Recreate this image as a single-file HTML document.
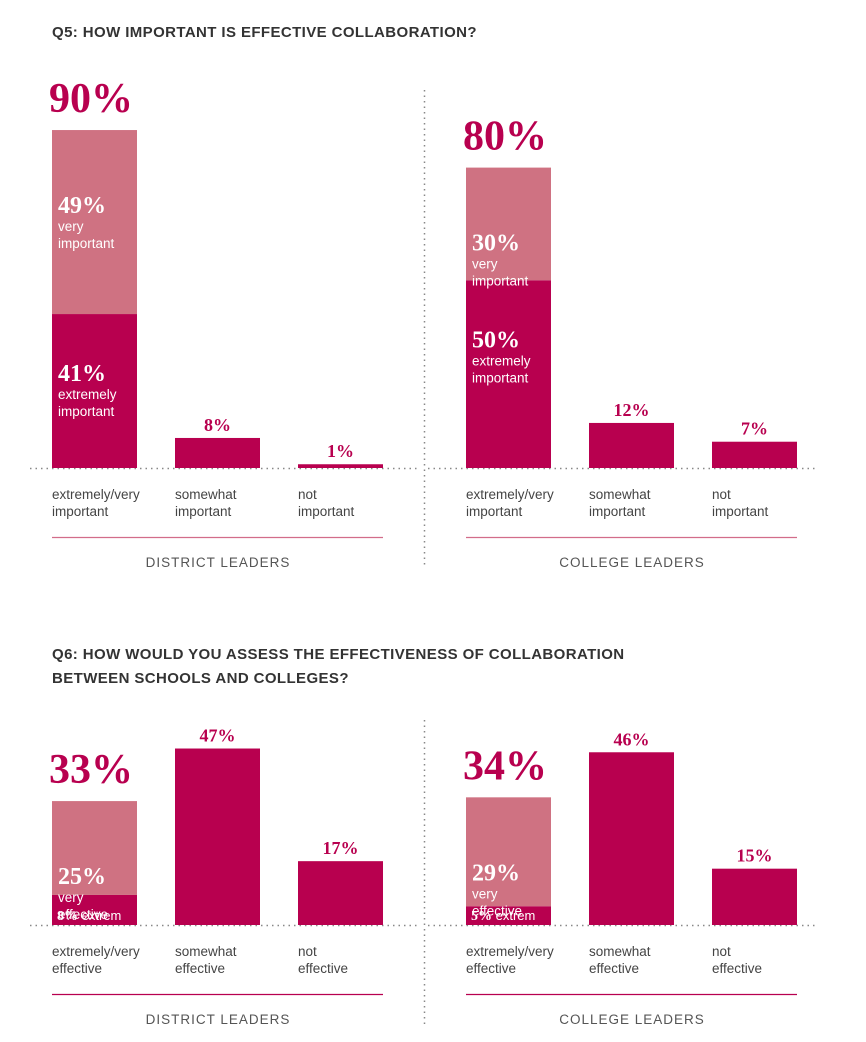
<!DOCTYPE html>
<html><head><meta charset="utf-8">
<style>
html,body{margin:0;padding:0;background:#fff;width:866px;height:1042px;overflow:hidden}
svg{display:block}
.title{font-family:"Liberation Sans",sans-serif;font-weight:bold;font-size:15px;fill:#333;letter-spacing:0.4px}
.cat{font-family:"Liberation Sans",sans-serif;font-size:13.5px;fill:#444}
.grp{font-family:"Liberation Sans",sans-serif;font-size:13.5px;fill:#555;letter-spacing:1px}
.big{font-family:"Liberation Serif",serif;font-weight:bold;font-size:42px;fill:#b8004f}
.val{font-family:"Liberation Serif",serif;font-weight:bold;font-size:18px;fill:#b8004f}
.inv{font-family:"Liberation Serif",serif;font-weight:bold;font-size:24px;fill:#fff}
.insub{font-family:"Liberation Sans",sans-serif;font-size:13.5px;fill:#fff}
</style></head>
<body>
<svg id="chart" width="866" height="1042" viewBox="0 0 866 1042" xmlns="http://www.w3.org/2000/svg">
<text class="title" x="52" y="37">Q5: HOW IMPORTANT IS EFFECTIVE COLLABORATION?</text>
<text class="title" x="52" y="659">Q6: HOW WOULD YOU ASSESS THE EFFECTIVENESS OF COLLABORATION</text>
<text class="title" x="52" y="683">BETWEEN SCHOOLS AND COLLEGES?</text>
</svg>
<script>
// Q5 data
const q5Groups = ["DISTRICT LEADERS", "COLLEGE LEADERS"];
const q5Extremely = [41, 50];
const q5Very = [49, 30];
const q5Somewhat = [8, 12];
const q5Not = [1, 7];
const q5Cats = [["extremely/very","important"],["somewhat","important"],["not","important"]];
// Q6 data
const q6Groups = ["DISTRICT LEADERS", "COLLEGE LEADERS"];
const q6Extremely = [8, 5];
const q6Very = [25, 29];
const q6Somewhat = [47, 46];
const q6Not = [17, 15];
const q6Cats = [["extremely/very","effective"],["somewhat","effective"],["not","effective"]];

const svg = document.getElementById('chart');
const NS = "http://www.w3.org/2000/svg";
const DARK = "#b8004f", LIGHT = "#cf7282";
const PXPER = 3.755;
function yScale(base, v){ return base - v*PXPER; }
function mk(tag, attrs, parent){
  const e = document.createElementNS(NS, tag);
  for (const k in attrs) e.setAttribute(k, attrs[k]);
  (parent||svg).appendChild(e);
  return e;
}
function txt(cls, x, y, s, anchor){
  const t = mk('text', {class:cls, x:x, y:y});
  if (anchor) t.setAttribute('text-anchor', anchor);
  t.textContent = s;
  return t;
}

function panel(q, gi, base, groups, ext, very, som, not, cats, subVery, subExt, lineColor, smallExt){
  const x0 = gi===0 ? 52 : 466;
  const bw = 85, step = 123;
  const g = mk('g', {});
  
  
  // baseline
  const bl = mk('line', {x1: gi===0?30:428, x2: gi===0?420:818, y1: base+0.5, y2: base+0.5, stroke:'#888', 'stroke-width':1.5, 'stroke-dasharray':'1.5,4'}, g);
  
  
  // stacked bar
  const e = ext[gi], v = very[gi];
  const yE = yScale(base, e), yT = yScale(base, e+v);
  const r1 = mk('rect', {x:x0, y:yE, width:bw, height:base-yE, fill:DARK}, g);
  
  
  const r2 = mk('rect', {x:x0, y:yT, width:bw, height:yE-yT, fill:LIGHT}, g);
  
  
  const tot = txt('big', x0-3, yT-18, (e+v)+'%');
  g.appendChild(tot);
  
  
  // very label
  const vl = txt('inv', x0+6, yT+83, v+'%'); g.appendChild(vl);
  
  
  const vs1 = txt('insub', x0+6, yT+101, 'very'); g.appendChild(vs1);
  
  
  const vs2 = txt('insub', x0+6, yT+118, subVery); g.appendChild(vs2);
  
  
  if (smallExt){
    const el = mk('text', {x:x0+5, y:base-5}, g);
    
    
    const a = mk('tspan', {style:'font-family:"Liberation Serif",serif;font-weight:bold;font-size:14px', fill:'#fff'}, el);
    a.textContent = e+'%';
    const b = mk('tspan', {style:'font-family:"Liberation Sans",sans-serif;font-size:13px', fill:'#fff'}, el);
    b.textContent = ' extrem';
  } else {
    const el = txt('inv', x0+6, yE+67, e+'%'); g.appendChild(el);
    
    
    const s1 = txt('insub', x0+6, yE+85, 'extremely'); g.appendChild(s1);
    
    
    const s2 = txt('insub', x0+6, yE+102, subExt); g.appendChild(s2);
    
    
  }
  // other bars
  [som[gi], not[gi]].forEach((val, i) => {
    const x = x0 + step*(i+1);
    const y = yScale(base, val);
    const r = mk('rect', {x:x, y:y, width:bw, height:Math.max(base-y,1.5), fill:DARK}, g);
    
    
    const t = txt('val', x+bw/2, Math.min(y, base-1.5)-7, val+'%', 'middle'); g.appendChild(t);
    
    
  });
  // category labels
  cats.forEach((c, i) => {
    const x = x0 + step*i;
    const t1 = txt('cat', x, base+31, c[0]); g.appendChild(t1);
    
    
    const t2 = txt('cat', x, base+48, c[1]); g.appendChild(t2);
    
    
  });
  const ul = mk('line', {x1:x0, x2:x0+331, y1:base+69.5, y2:base+69.5, stroke:lineColor, 'stroke-width':1.3}, g);
  
  
  const gl = txt('grp', x0+166, base+99, groups[gi], 'middle'); g.appendChild(gl);
  
  
}

// dividers
const d1 = mk('line', {x1:424.5, x2:424.5, y1:90, y2:568, stroke:'#888', 'stroke-width':1.5, 'stroke-dasharray':'1.5,4'});


const d2 = mk('line', {x1:424.5, x2:424.5, y1:720, y2:1025, stroke:'#888', 'stroke-width':1.5, 'stroke-dasharray':'1.5,4'});



for (let gi=0; gi<2; gi++){
  panel('q5', gi, 468, q5Groups, q5Extremely, q5Very, q5Somewhat, q5Not, q5Cats, 'important', 'important', '#d26d8a', false);
  panel('q6', gi, 925, q6Groups, q6Extremely, q6Very, q6Somewhat, q6Not, q6Cats, 'effective', 'effective', '#b8004f', true);
}
</script>
</body></html>
